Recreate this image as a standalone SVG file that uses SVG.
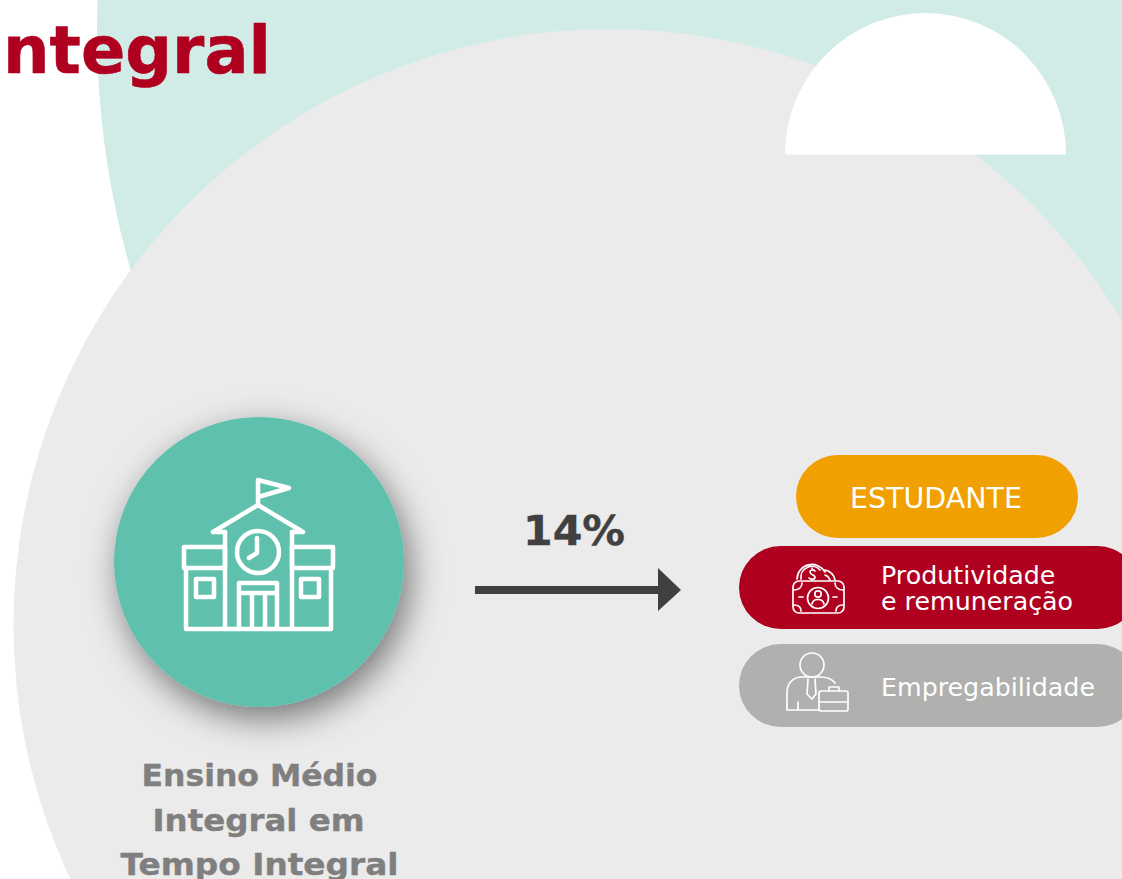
<svg xmlns="http://www.w3.org/2000/svg" width="1122" height="879" viewBox="0 0 1122 879">
<style>
text{font-family:"DejaVu Sans",Verdana,sans-serif}
.ic{fill:none;stroke:#fff;stroke-linejoin:round;stroke-linecap:round}
.lb{fill:#fff;font-size:25.300px}
.cap{fill:#7f7f7f;font-size:31px;font-weight:bold;text-anchor:middle;stroke:#7f7f7f;stroke-width:.4}
</style>
<defs>
<filter id="sh" x="-40%" y="-40%" width="180%" height="180%"><feDropShadow dx="6" dy="12" stdDeviation="17" flood-color="#000" flood-opacity=".5"/></filter>
</defs>
<rect width="1122" height="879" fill="#fff"/>
<circle cx="972" cy="30" r="875" fill="#d1ece6"/>
<circle cx="609.500" cy="625" r="596" fill="#ebebeb"/>
<path d="M785 154.500A140.500 141.500 0 0 1 1066 154.500Z" fill="#fff"/>
<text x="3" y="73" font-size="66" font-weight="bold" fill="#b00020" stroke="#b00020" stroke-width=".6" textLength="268" lengthAdjust="spacingAndGlyphs">ntegral</text>
<g id="node-escola">
<circle cx="259" cy="562" r="145" fill="#5fc0ae" filter="url(#sh)"/>
<g class="ic" stroke-width="4.500">
<path d="M184 547H225V568H184ZM292 547H333V568H292Z"/>
<path d="M186 568V629H331V568"/>
<path d="M225 532V629M292 532V629"/>
<path d="M213 532L258 505L303 532H292M213 532H225"/>
<circle cx="258" cy="552" r="21"/>
<path d="M257 538V553L249 558"/>
<path d="M239 629V583H277V629M239 593H277M252 593V629M265 593V629"/>
<path d="M196 579H214V597H196ZM301 579H319V597H301Z"/>
<path d="M258 505V480L289 488L258 497"/>
</g>
</g>
<text class="cap" x="259.500" y="786" textLength="236" lengthAdjust="spacingAndGlyphs">Ensino Médio</text>
<text class="cap" x="258.500" y="831" textLength="212" lengthAdjust="spacingAndGlyphs">Integral em</text>
<text class="cap" x="259.500" y="875" textLength="278" lengthAdjust="spacingAndGlyphs">Tempo Integral</text>
<g id="connectors">
<path d="M475 590H660" stroke="#404040" stroke-width="8" fill="none"/>
<path d="M658 568L681 590L658 611Z" fill="#404040"/>
</g>
<text x="574" y="545" font-size="41" font-weight="bold" fill="#404040" stroke="#404040" stroke-width=".4" text-anchor="middle" textLength="102" lengthAdjust="spacingAndGlyphs">14%</text>
<g id="node-estudante">
<rect x="796" y="455" width="282" height="83" rx="41.500" fill="#f0a000"/>
<text x="936" y="508" font-size="28.500" fill="#fff" text-anchor="middle">ESTUDANTE</text>
</g>
<g id="node-produtividade">
<rect x="739" y="546" width="400" height="83" rx="41.500" fill="#b00020"/>
<g class="ic" stroke-width="1.700">
<rect x="793" y="581" width="51" height="32" rx="6"/>
<circle cx="818" cy="598" r="10.500"/>
<circle cx="818" cy="594" r="3.200"/>
<path d="M812 604C813 598 823 598 824 604M799 597H803M833 597H837M794 590C798 590 802 588 802 583M843 590C839 590 835 588 835 583M794 605C798 605 801 607 801 611M843 605C839 605 836 607 836 611"/>
<path d="M797 579A15 15 0 0 1 825 572M801 579A11 11 0 0 1 820 570M825 570A13 13 0 0 1 835 580M825 575A8 8 0 0 1 830 580"/>
<path d="M815 571C813 569 810 570 810 572C810 575 815 575 815 577C815 580 811 580 809 578M812 568V569M812 579V580"/>
</g>
<text class="lb" x="881" y="584">Produtividade</text>
<text class="lb" x="881" y="610">e remuneração</text>
</g>
<g id="node-empregabilidade">
<rect x="739" y="644" width="400" height="83" rx="41.500" fill="#b0b0ae"/>
<g class="ic" stroke-width="1.700">
<circle cx="812" cy="665" r="12"/>
<path d="M835 683C832 679 827 677 820 677H802C793 677 787 683 787 693V710H819M798 710V702"/>
<path d="M808 679L807 694L812 699L816 694L815 679"/>
<rect x="819" y="691" width="29" height="20" rx="2"/>
<path d="M829 691V687H839V691M819 702H848"/>
</g>
<text class="lb" x="881" y="696">Empregabilidade</text>
</g>
</svg>
